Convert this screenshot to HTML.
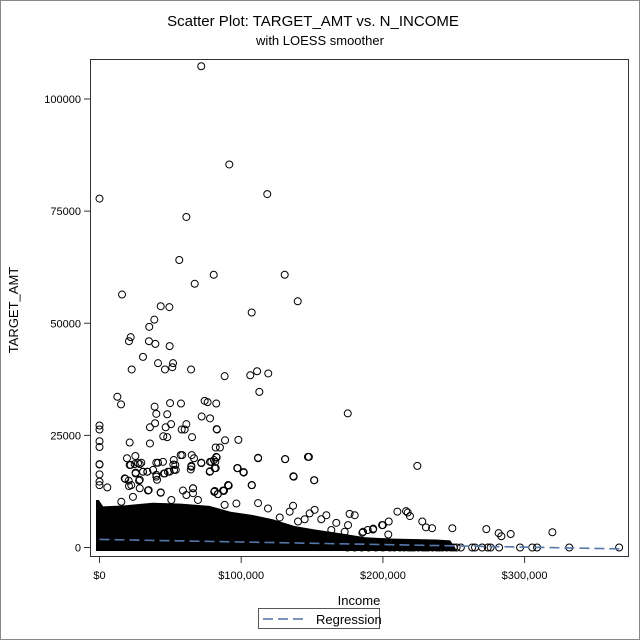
<!DOCTYPE html>
<html><head><meta charset="utf-8"><style>
body{margin:0;background:#fff;}
#wrap{position:relative;width:640px;height:640px;background:#fff;}
svg{position:absolute;left:0;top:0;}
text{font-family:"Liberation Sans",sans-serif;fill:#000;}
</style></head><body>
<div id="wrap">
<svg id="chart" width="640" height="640">
  <rect x="0.5" y="0.5" width="639" height="639" fill="#fff" stroke="#888"/>
  <text x="313" y="26" text-anchor="middle" font-size="15">Scatter Plot: TARGET_AMT vs. N_INCOME</text>
  <text x="320" y="45" text-anchor="middle" font-size="13">with LOESS smoother</text>
  <g id="marks"></g>
  <rect x="90.5" y="59.5" width="538" height="497" fill="none" stroke="#333"/>
  <g id="axes"></g>
  <text x="18" y="310" text-anchor="middle" font-size="13" transform="rotate(-90 18 310)">TARGET_AMT</text>
  <text x="359" y="605" text-anchor="middle" font-size="13">Income</text>
  <g>
    <rect x="258.5" y="608.5" width="121" height="20" fill="#fff" stroke="#555"/>
    <line x1="263" y1="619" x2="304" y2="619" stroke="#7b93bd" stroke-width="2" stroke-dasharray="10,5"/>
    <text x="316" y="624" font-size="13">Regression</text>
  </g>
</svg>
</div>
<script>
const xTicks=[0,100000,200000,300000];
const xTickLabels=["$0","$100,000","$200,000","$300,000"];
const yTicks=[0,25000,50000,75000,100000];
const yTickLabels=["0","25000","50000","75000","100000"];
// outlier points (income, target_amt)
const ptX=[71800,91600,118400,0,61300,56300,80600,130700,67200,15900,139900,43200,49300,107400,38700,35100,22000,20800,34900,39400,49500,30700,41300,51900,51400,46200,22700,64600,88300,106400,111200,119100,112800,12600,15200,38900,40100,47800,49800,57500,74200,76300,82400,72100,78000,82900,0,0,35600,39200,46700,50500,61300,58000,60100,65300,45000,47800,98000,88600,82700,175200,224300,111900,130900,147800,136800,151400,107400,97500,101500,82000,85000,71800,78000,80800,82700,78000,82000,81000,83400,87600,90900,210200,216300,217500,219100,227800,230400,234700,249000,273000,281700,283600,290200,319600,199400,204100,193200,189300,185500,203800,0,0,0,0,0,0,
24800,28400,21300,30700,33800,25500,40100,46000,49500,52600,41300,53500,64800,71900,77800,81700,97300,101800,137000,151600,107600,90700,87200,83600,66000,66000,61300,43200,34200,27900,20800,17800,5500,15400,23600,50700,69500,88300,96600,111900,118900,136600,134200,151800,148300,160100,167100,176500,180100,186000,193000,200000,175400,173000,163600,156500,144800,140100,127200,133000,147100,161300,170600,188300,
0,21300,35600,25300,19400,22000,27200,29500,40100,44800,52400,57300,58400,65100,66700,71800,78900,82400,81300,77800,64800,64400,52100,53800,48300,45500,40100,37800,30700,33700,25500,18200,20600,28400,22400,28400,40600,43200,34700,58900,66000,81300,87900,91200,107400,97200,101800,111900,131100,137000,147100];
const ptY=[107300,85400,78800,77800,73700,64100,60800,60800,58800,56400,54900,53800,53600,52400,50800,49200,46900,46000,46000,45400,44900,42500,41100,41100,40200,39700,39700,39700,38200,38400,39300,38800,34700,33600,31900,31400,29800,29700,32200,32100,32700,32400,32100,29200,28800,26300,27200,26300,26800,27700,26800,27500,27500,26300,26300,24600,24800,24600,24000,23900,26400,29900,18200,20000,19700,20200,15900,15000,13900,17700,16800,22300,22300,18900,19100,19500,20100,17000,17700,12400,11900,12600,13900,8000,8100,7800,7000,5800,4500,4300,4300,4100,3200,2500,3000,3400,5000,5800,4200,3900,3300,2900,23700,22400,18600,16300,14700,13900,
18600,18600,18400,16900,16900,16500,15800,16500,16900,17300,18900,18400,18200,18800,16900,19100,17700,16700,15800,15000,13900,13900,12700,11900,13200,12100,11700,12200,12700,14900,13700,15400,13400,10200,11300,10600,10600,9500,9800,9900,8700,9300,8000,8400,7600,7200,5500,7500,7200,3500,4000,5000,5000,3500,3900,6300,6300,5800,6700,4300,3200,2400,1700,1200,
18500,23400,23200,20400,19900,18400,18800,18900,18900,19100,19500,20600,20600,20600,19900,18900,19100,20200,17700,16900,18000,17400,18500,17300,16900,16500,16200,17300,16900,16900,16700,15300,14900,15100,13900,13200,15100,12300,12800,12700,13200,12600,12700,13800,13900,17700,16800,19900,19700,15800,20200];
// points at zero target
const zeroX=[175000,180000,185000,190000,195000,200000,205000,208000,212000,215000,218000,220000,222000,225000,228000,230000,232000,235000,238000,240000,242000,245000,248000,250000,252000,255000,263000,265000,270000,274000,276000,282000,296800,305400,308800,331500,366700];
// dense cluster upper envelope
const bandX=[0,2000,5000,20000,40000,60000,80000,95000,110000,125000,140000,155000,170000,190000,210000,240000,250000];
const bandTop=[9800,9800,8400,8600,9200,9000,8500,7200,6500,5500,4000,3200,2500,1500,1200,1000,800];
const regX=[0,367000];
const regY=[1800,-300];

const X0=99.5,XS=141.7/100000,Y0=547.5,YS=448.5/100000;
function sx(v){return X0+v*XS;}
function sy(v){return Y0-v*YS;}
const NS="http://www.w3.org/2000/svg";
const marks=document.getElementById('marks');
const axes=document.getElementById('axes');
let pts=[];
for(let i=0;i<bandX.length;i++)pts.push((sx(bandX[i])-3.5)+","+(sy(bandTop[i])-3.5));
pts.push((sx(bandX[bandX.length-1])+3.5)+","+(sy(0)+3.5));
pts.push((sx(0)-3.5)+","+(sy(0)+3.5));
const band=document.createElementNS(NS,'polygon');
band.setAttribute('points',pts.join(' '));
band.setAttribute('fill','#000');


marks.appendChild(band);
function circ(x,y,name){
  const c=document.createElementNS(NS,'circle');
  c.setAttribute('cx',sx(x));c.setAttribute('cy',sy(y));c.setAttribute('r',3.5);
  c.setAttribute('fill','none');c.setAttribute('stroke','#000');c.setAttribute('stroke-width','1');
  
  
  marks.appendChild(c);
}
for(let i=0;i<ptX.length;i++)circ(ptX[i],ptY[i],'scatter-point');
for(let i=0;i<zeroX.length;i++)circ(zeroX[i],0,'scatter-point-zero');
const rl=document.createElementNS(NS,'line');
rl.setAttribute('x1',sx(regX[0]));rl.setAttribute('y1',sy(regY[0]));
rl.setAttribute('x2',sx(regX[1]));rl.setAttribute('y2',sy(regY[1]));
rl.setAttribute('stroke','#5577aa');rl.setAttribute('stroke-width','1.6');rl.setAttribute('stroke-dasharray','10,5');


marks.appendChild(rl);
for(let i=0;i<xTicks.length;i++){
  const l=document.createElementNS(NS,'line');
  l.setAttribute('x1',sx(xTicks[i]));l.setAttribute('x2',sx(xTicks[i]));
  l.setAttribute('y1',557);l.setAttribute('y2',563);l.setAttribute('stroke','#333');
  
  
  axes.appendChild(l);
  const t=document.createElementNS(NS,'text');
  t.setAttribute('x',sx(xTicks[i]));t.setAttribute('y',579);t.setAttribute('text-anchor','middle');t.setAttribute('font-size','11');
  t.textContent=xTickLabels[i];
  
  
  axes.appendChild(t);
}
for(let i=0;i<yTicks.length;i++){
  const l=document.createElementNS(NS,'line');
  l.setAttribute('x1',84);l.setAttribute('x2',90);
  l.setAttribute('y1',sy(yTicks[i]));l.setAttribute('y2',sy(yTicks[i]));l.setAttribute('stroke','#333');
  
  
  axes.appendChild(l);
  const t=document.createElementNS(NS,'text');
  t.setAttribute('x',81);t.setAttribute('y',sy(yTicks[i])+4);t.setAttribute('text-anchor','end');t.setAttribute('font-size','11');
  t.textContent=yTickLabels[i];
  
  
  axes.appendChild(t);
}
</script>
</body></html>
